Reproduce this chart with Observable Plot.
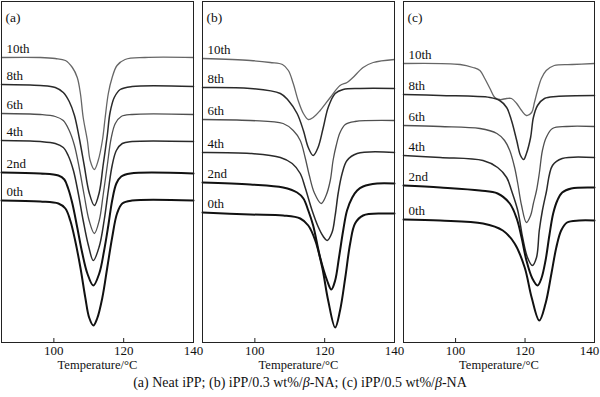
<!DOCTYPE html>
<html><head><meta charset="utf-8">
<script src="https://cdn.jsdelivr.net/npm/d3@7"></script>
<script src="https://cdn.jsdelivr.net/npm/@observablehq/plot@0.6"></script>
<style>
body{margin:0;background:#fff;}
#wrap{position:relative;width:600px;height:397px;font-family:"Liberation Serif","Times New Roman",Times,serif;overflow:hidden;}
.panel{position:absolute;top:0;}
.panel svg, .panel svg text{font-family:"Liberation Serif","Times New Roman",Times,serif !important;}
#caption{position:absolute;left:0;width:600px;top:375px;text-align:center;font-size:14px;color:#111;font-family:"Liberation Serif","Times New Roman",Times,serif;}
</style></head><body>
<div id="wrap">
<div id="pa" class="panel" style="left:0px"></div>
<div id="pb" class="panel" style="left:200px"></div>
<div id="pc" class="panel" style="left:400px"></div>
<div id="caption">(a) Neat iPP; (b) iPP/0.3 wt%/<i>β</i>-NA; (c) iPP/0.5 wt%/<i>β</i>-NA</div>
</div>
<script>
// Panel titles, cycle names, x ticks
const panelLetters = ["(a)", "(b)", "(c)"];
const cycles = ["10th", "8th", "6th", "4th", "2nd", "0th"];
const xTicks = [100, 120, 140];
const xLabel = "Temperature/°C";

// ---- (a) Neat iPP: temperature (°C) and heat flow (a.u., stacked) ----
const a10T = [85, 96.1, 100.4, 103.3, 105.3, 106.7, 107.6, 108.4, 109.6, 110.4, 111.6, 112.7, 113.9, 114.7, 115.6, 116.7, 118.1, 120.4, 126.1, 140];
const a10V = [285, 285, 284, 282, 275, 265, 249, 225, 202, 182, 173, 182, 202, 225, 249, 265, 277, 283, 285, 285];
const a8T = [85, 96.1, 100.4, 102.7, 104.4, 105.9, 107.3, 108.7, 110.1, 111.6, 113, 114.1, 115.3, 116.1, 117.3, 119, 122.4, 140];
const a8V = [258, 257, 255, 250, 241, 227, 204, 177, 150, 137, 150, 177, 207, 230, 245, 253, 256, 256];
const a6T = [85, 96.1, 100.4, 102.7, 104.4, 105.9, 107.3, 108.7, 110.1, 111.6, 113, 114.1, 115.3, 116.4, 117.6, 119.3, 122.4, 140];
const a6V = [229, 228, 226, 222, 212, 197, 174, 147, 122, 109, 122, 147, 177, 204, 219, 226, 228, 228];
const a4T = [85, 96.1, 100.4, 102.7, 104.1, 105.6, 107, 108.4, 109.9, 111.3, 113, 114.4, 115.6, 116.7, 117.9, 119.6, 122.4, 140];
const a4V = [202, 201, 199, 195, 187, 172, 149, 122, 97, 82, 96, 122, 152, 177, 192, 199, 201, 201];
const a2T = [85, 96.1, 101.3, 103, 104.1, 105.3, 106.7, 108.1, 109.6, 111.3, 113, 114.4, 115.6, 116.7, 117.9, 119.3, 121.9, 140];
const a2V = [170, 169, 167, 163, 154, 139, 115, 90, 69, 57, 69, 92, 117, 142, 159, 166, 169, 169];
const a0T = [85, 96.1, 101.3, 103.3, 104.7, 106.1, 107.6, 109, 110.1, 111.3, 112.4, 113.9, 115.3, 116.7, 118.1, 119.6, 122.4, 140];
const a0V = [142, 141, 139, 134, 122, 102, 75, 45, 25, 17, 24, 45, 75, 105, 129, 139, 142, 142];

// ---- (b) iPP/0.3 wt% beta-NA ----
const b10T = [85, 98.7, 104.4, 107.9, 109.6, 111, 112.4, 113.9, 115.3, 116.7, 118.7, 121.6, 124.4, 126.4, 128.1, 131, 133.9, 140];
const b10V = [284, 282, 280, 278, 272, 259, 242, 229, 223, 225, 232, 245, 257, 260, 265, 275, 280, 283];
const b8T = [85, 98.7, 107.3, 109.6, 112.1, 113.9, 115.3, 116.7, 118.1, 119.6, 121, 123, 125.3, 130.1, 140];
const b8V = [255, 254, 249, 242, 229, 212, 195, 187, 195, 215, 235, 249, 253, 254, 254];
const b6T = [85, 98.7, 108.1, 111, 113, 114.4, 115.6, 117, 119, 120.4, 121.6, 122.4, 123.3, 124.4, 125.9, 128.7, 140];
const b6V = [223, 222, 219, 212, 202, 185, 167, 150, 139, 147, 162, 182, 197, 210, 218, 221, 222];
const b4T = [85, 98.7, 107.3, 110.7, 113, 114.4, 116.4, 118.1, 119.6, 120.7, 122.1, 123, 123.9, 125, 126.4, 129.3, 140];
const b4V = [190, 189, 185, 179, 169, 155, 132, 116, 106, 102, 110, 127, 150, 169, 182, 189, 190];
const b2T = [85, 98.7, 108.1, 112.1, 113.9, 115.3, 116.7, 118.7, 120.7, 121.9, 123, 124.1, 125.3, 126.4, 127.9, 129.3, 131, 135, 140];
const b2V = [160, 158, 155, 150, 144, 132, 117, 85, 62, 53, 62, 85, 112, 132, 145, 152, 156, 159, 159];
const b0T = [85, 98.7, 108.1, 113, 115.3, 117.3, 119.3, 121, 123, 124.4, 125.9, 127.3, 128.7, 131, 136.7, 140];
const b0V = [130, 128, 127, 124, 117, 102, 75, 42, 15, 32, 65, 99, 119, 127, 129, 129];

// ---- (c) iPP/0.5 wt% beta-NA ----
const c10T = [85, 101.3, 105, 107, 108.4, 109.9, 111.3, 112.7, 114.7, 116.1, 117.6, 119, 120.4, 121.9, 122.7, 123.6, 124.7, 126.1, 128.4, 133.6, 140];
const c10V = [279, 278, 275, 272, 264, 254, 245, 243, 244, 244, 239, 232, 227, 230, 240, 252, 264, 272, 277, 278, 279];
const c8T = [85, 95.6, 109.9, 112.7, 114.7, 116.1, 117.6, 118.7, 119.6, 120.4, 121.6, 122.4, 123.6, 125.6, 129, 140];
const c8V = [248, 247, 245, 242, 235, 222, 202, 187, 183, 189, 205, 225, 237, 244, 246, 247];
const c6T = [85, 95.6, 107, 111.9, 114.1, 115.6, 117, 117.9, 119, 120.4, 121.6, 122.4, 123.3, 124.1, 125, 126.1, 127.9, 131.9, 140];
const c6V = [217, 216, 214, 209, 202, 192, 175, 159, 137, 120, 127, 139, 152, 169, 192, 205, 214, 216, 216];
const c4T = [85, 95.6, 107.9, 112.1, 114.7, 116.1, 117.9, 119.3, 120.7, 122.1, 123.3, 124.1, 125, 126.1, 127.9, 130.7, 140];
const c4V = [187, 185, 182, 175, 165, 152, 132, 105, 85, 77, 85, 112, 132, 150, 177, 184, 185];
const c2T = [85, 95.6, 107, 112.1, 115.6, 117.6, 119, 120.4, 122.1, 123.6, 124.7, 125.9, 127, 128.1, 129.3, 130.7, 133.3, 140];
const c2V = [157, 155, 152, 149, 139, 124, 105, 82, 64, 57, 64, 82, 107, 129, 142, 150, 154, 155];
const c0T = [85, 95.6, 107.9, 113.6, 117, 119.9, 121.9, 124.1, 125.9, 127.6, 129, 130.4, 132.1, 135.6, 140];
const c0V = [123, 122, 119, 112, 99, 75, 45, 22, 39, 69, 95, 112, 120, 122, 122];

// line styles per cycle
const lineColor = {"10th": "#666", "8th": "#2a2a2a", "6th": "#505050", "4th": "#2a2a2a", "2nd": "#111", "0th": "#111"};
const lineWidth = {"10th": 1.3, "8th": 1.5, "6th": 1.3, "4th": 1.5, "2nd": 2, "0th": 2};

const panelData = [
  [[a10T, a10V], [a8T, a8V], [a6T, a6V], [a4T, a4V], [a2T, a2V], [a0T, a0V]],
  [[b10T, b10V], [b8T, b8V], [b6T, b6V], [b4T, b4V], [b2T, b2V], [b0T, b0V]],
  [[c10T, c10V], [c8T, c8V], [c6T, c6V], [c4T, c4V], [c2T, c2V], [c0T, c0V]]
];

const serif = "'Liberation Serif', 'Times New Roman', Times, serif";

function makePanel(letter, series, ml, mr, lastTickShift) {
  const curves = series.map(([T, V], i) => ({name: cycles[i], rows: T.map((t, j) => ({T: t, v: V[j]}))}));
  const starts = curves.map(c => ({cycle: c.name, T: c.rows[0].T, v: c.rows[0].v}));
  return Plot.plot({
    width: 200, height: 372,
    marginTop: 1, marginBottom: 30, marginLeft: ml, marginRight: mr,
    style: {fontFamily: serif, fontSize: "13px", background: "transparent", overflow: "visible", color: "#111"},
    x: {domain: [85, 140]},
    y: {domain: [0, 341], axis: null},
    marks: [
      ...curves.map(c => Plot.line(c.rows, {x: "T", y: "v", stroke: lineColor[c.name], strokeWidth: lineWidth[c.name], curve: "catmull-rom"})),
      Plot.text(starts, {x: "T", y: "v", text: "cycle", textAnchor: "start", dx: 5, dy: -9, fontSize: 13, fill: "#111"}),
      Plot.ruleX(xTicks, {y1: 0, y2: 4, stroke: "#222"}),
      Plot.axisX({ticks: xTicks.slice(0, -1), tickSize: 0, tickPadding: 3, label: null, fontSize: 13}),
      Plot.axisX({ticks: xTicks.slice(-1), tickSize: 0, tickPadding: 3, label: null, fontSize: 13, dx: lastTickShift}),
      Plot.text([xLabel], {frameAnchor: "bottom", dy: 26, text: d => d, fontSize: 12.5, fill: "#111"}),
      Plot.text([letter], {frameAnchor: "top-left", dx: 4, dy: 11, text: d => d, textAnchor: "start", fontSize: 13.5, fill: "#111"}),
      Plot.frame({stroke: "#222", strokeWidth: 1})
    ]
  });
}

document.getElementById("pa").append(makePanel(panelLetters[0], panelData[0], 1, 7, 0));
document.getElementById("pb").append(makePanel(panelLetters[1], panelData[1], 2, 6, 0));
document.getElementById("pc").append(makePanel(panelLetters[2], panelData[2], 3, 6, -5));
</script>
</body></html>
